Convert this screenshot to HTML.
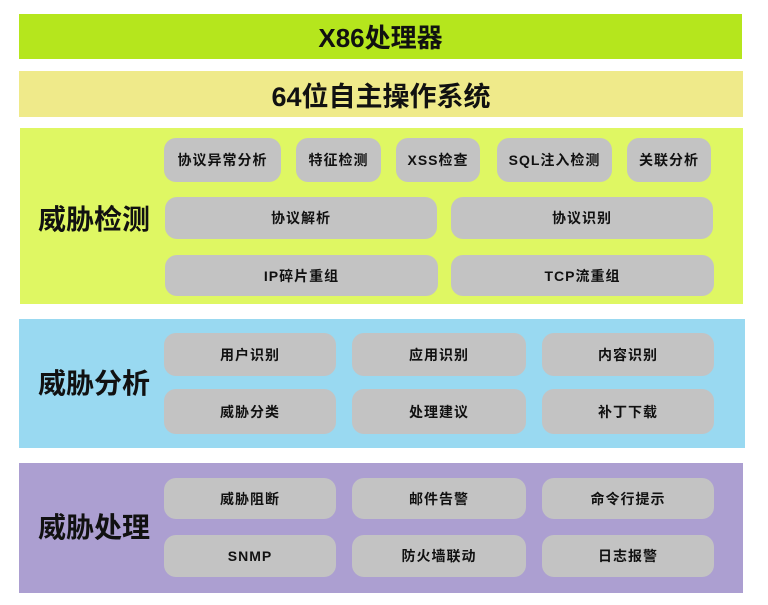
<!DOCTYPE html>
<html><head><meta charset="utf-8"><style>
body{margin:0;width:768px;height:605px;background:#fff;position:relative;overflow:hidden;font-family:"Liberation Sans","Noto Sans CJK SC",sans-serif}
div{position:absolute;box-sizing:border-box}
.band{display:flex;align-items:center;justify-content:center;font-weight:bold;color:#111}
.c{background:#c3c3c3;border-radius:12px;display:flex;align-items:center;justify-content:center;font-size:14px;font-weight:bold;color:#111;letter-spacing:1px}
.lbl{font-size:28px;font-weight:bold;color:#111;left:30px;width:128px;text-align:center;line-height:32px}
</style></head><body>
<div class="band" style="left:19px;top:14px;width:723px;height:45px;background:#b5e61d;font-size:26px">X86处理器</div>
<div class="band" style="left:19px;top:71px;width:724px;height:46px;background:#efea8a;font-size:27px">64位自主操作系统</div>

<div style="left:20px;top:128px;width:723px;height:176px;background:#dff763"></div>
<div class="lbl" style="top:204px">威胁检测</div>
<div class="c" style="left:164px;top:138px;width:117px;height:44px">协议异常分析</div>
<div class="c" style="left:296px;top:138px;width:85px;height:44px">特征检测</div>
<div class="c" style="left:396px;top:138px;width:84px;height:44px">XSS检查</div>
<div class="c" style="left:497px;top:138px;width:115px;height:44px">SQL注入检测</div>
<div class="c" style="left:627px;top:138px;width:84px;height:44px">关联分析</div>
<div class="c" style="left:165px;top:197px;width:272px;height:42px">协议解析</div>
<div class="c" style="left:451px;top:197px;width:262px;height:42px">协议识别</div>
<div class="c" style="left:165px;top:255px;width:273px;height:41px">IP碎片重组</div>
<div class="c" style="left:451px;top:255px;width:263px;height:41px">TCP流重组</div>

<div style="left:19px;top:319px;width:726px;height:129px;background:#99d9f1"></div>
<div class="lbl" style="top:368px">威胁分析</div>
<div class="c" style="left:164px;top:333px;width:172px;height:43px">用户识别</div>
<div class="c" style="left:352px;top:333px;width:174px;height:43px">应用识别</div>
<div class="c" style="left:542px;top:333px;width:172px;height:43px">内容识别</div>
<div class="c" style="left:164px;top:389px;width:172px;height:45px">威胁分类</div>
<div class="c" style="left:352px;top:389px;width:174px;height:45px">处理建议</div>
<div class="c" style="left:542px;top:389px;width:172px;height:45px">补丁下载</div>

<div style="left:19px;top:463px;width:724px;height:130px;background:#ac9fd1"></div>
<div class="lbl" style="top:512px">威胁处理</div>
<div class="c" style="left:164px;top:478px;width:172px;height:41px">威胁阻断</div>
<div class="c" style="left:352px;top:478px;width:174px;height:41px">邮件告警</div>
<div class="c" style="left:542px;top:478px;width:172px;height:41px">命令行提示</div>
<div class="c" style="left:164px;top:535px;width:172px;height:42px">SNMP</div>
<div class="c" style="left:352px;top:535px;width:174px;height:42px">防火墙联动</div>
<div class="c" style="left:542px;top:535px;width:172px;height:42px">日志报警</div>
</body></html>
